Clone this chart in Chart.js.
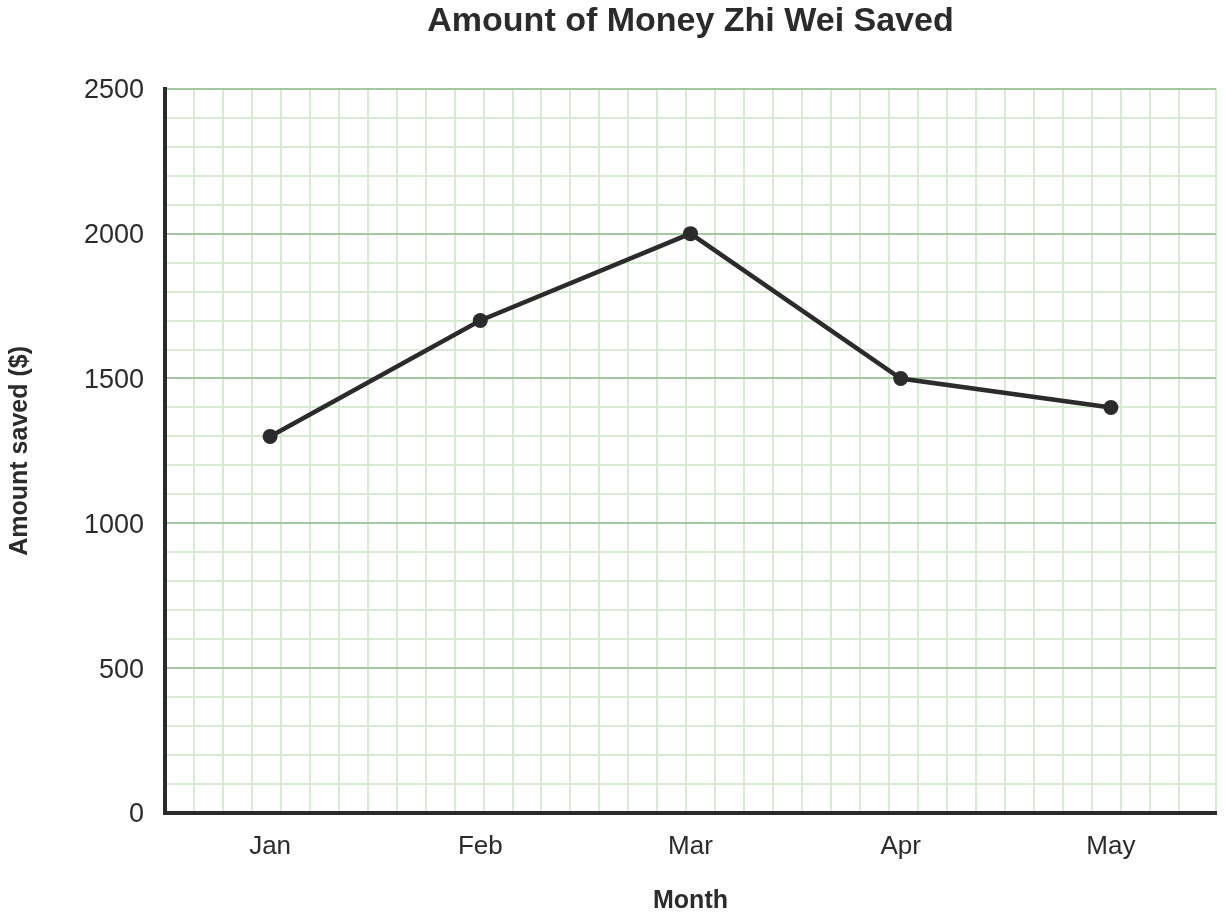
<!DOCTYPE html>
<html>
<head>
<meta charset="utf-8">
<script src="https://cdn.jsdelivr.net/npm/chart.js@4"></script>
<style>
  html, body { margin: 0; padding: 0; background: #ffffff; }
  #wrap { width: 1225px; height: 917px; position: relative; }
</style>
</head>
<body>
<div id="wrap"><canvas id="c"></canvas></div>
<script>
const months = ['Jan', 'Feb', 'Mar', 'Apr', 'May'];
const amountSaved = [1300, 1700, 2000, 1500, 1400];
const yMajorTicks = [0, 500, 1000, 1500, 2000, 2500];

const FONT = "'Liberation Sans', Arial, sans-serif";
const DARK = '#2b2b2b';
const MINOR = '#d9ead3';
const MAJOR = '#a3c9a0';

new Chart(document.getElementById('c'), {
  type: 'line',
  data: {
    labels: months,
    datasets: [{
      label: 'Amount saved ($)',
      data: amountSaved,
      borderColor: DARK,
      backgroundColor: DARK,
      borderWidth: 4.5,
      pointRadius: 7.5,
      pointHoverRadius: 7.5,
      pointBackgroundColor: DARK,
      pointBorderColor: DARK,
      pointBorderWidth: 0,
      tension: 0,
      fill: false,
      xAxisID: 'x',
      yAxisID: 'y'
    }]
  },
  options: {
    responsive: true,
    maintainAspectRatio: false,
    animation: false,
    layout: { padding: { left: 0, right: 9, top: 0, bottom: 0 } },
    plugins: {
      legend: { display: false },
      tooltip: { enabled: false },
      title: {
        display: true,
        fullSize: false,
        text: 'Amount of Money Zhi Wei Saved',
        color: DARK,
        font: { family: FONT, size: 34, weight: 'bold' },
        padding: { top: 1, bottom: 47 }
      }
    },
    scales: {
      xg: {
        type: 'linear',
        position: 'bottom',
        min: 0,
        max: 36.29,
        z: -1,
        afterFit: s => { s.height = 0; },
        ticks: { display: false, stepSize: 1, autoSkip: false },
        grid: { color: MINOR, lineWidth: 2, drawTicks: false },
        border: { display: false }
      },
      y: {
        type: 'linear',
        min: 0,
        max: 2500,
        afterFit: s => { s.width = 165; },
        afterBuildTicks: s => {
          const t = [];
          for (let v = 0; v <= 2500; v += 100) t.push({ value: v });
          s.ticks = t;
        },
        ticks: {
          color: DARK,
          font: { family: FONT, size: 27 },
          padding: 21,
          labelOffset: 2,
          autoSkip: false,
          callback: v => yMajorTicks.includes(v) ? String(v) : ''
        },
        grid: {
          drawTicks: false,
          lineWidth: 2,
          color: ctx => (ctx.tick && ctx.tick.value % 500 === 0) ? MAJOR : MINOR
        },
        border: { display: true, color: DARK, width: 4 },
        title: {
          display: true,
          text: 'Amount saved ($)',
          color: DARK,
          font: { family: FONT, size: 25, weight: 'bold' },
          padding: { top: 5, bottom: 0 }
        }
      },
      x: {
        type: 'category',
        offset: true,
        afterFit: s => { s.height = 104; },
        ticks: {
          color: DARK,
          font: { family: FONT, size: 26 },
          padding: 18,
          maxRotation: 0
        },
        grid: { display: false, drawTicks: false },
        border: { display: true, color: DARK, width: 4 },
        title: {
          display: true,
          text: 'Month',
          color: DARK,
          font: { family: FONT, size: 25, weight: 'bold' },
          padding: { top: 0, bottom: 1 }
        }
      }
    }
  }
});
</script>
</body>
</html>
